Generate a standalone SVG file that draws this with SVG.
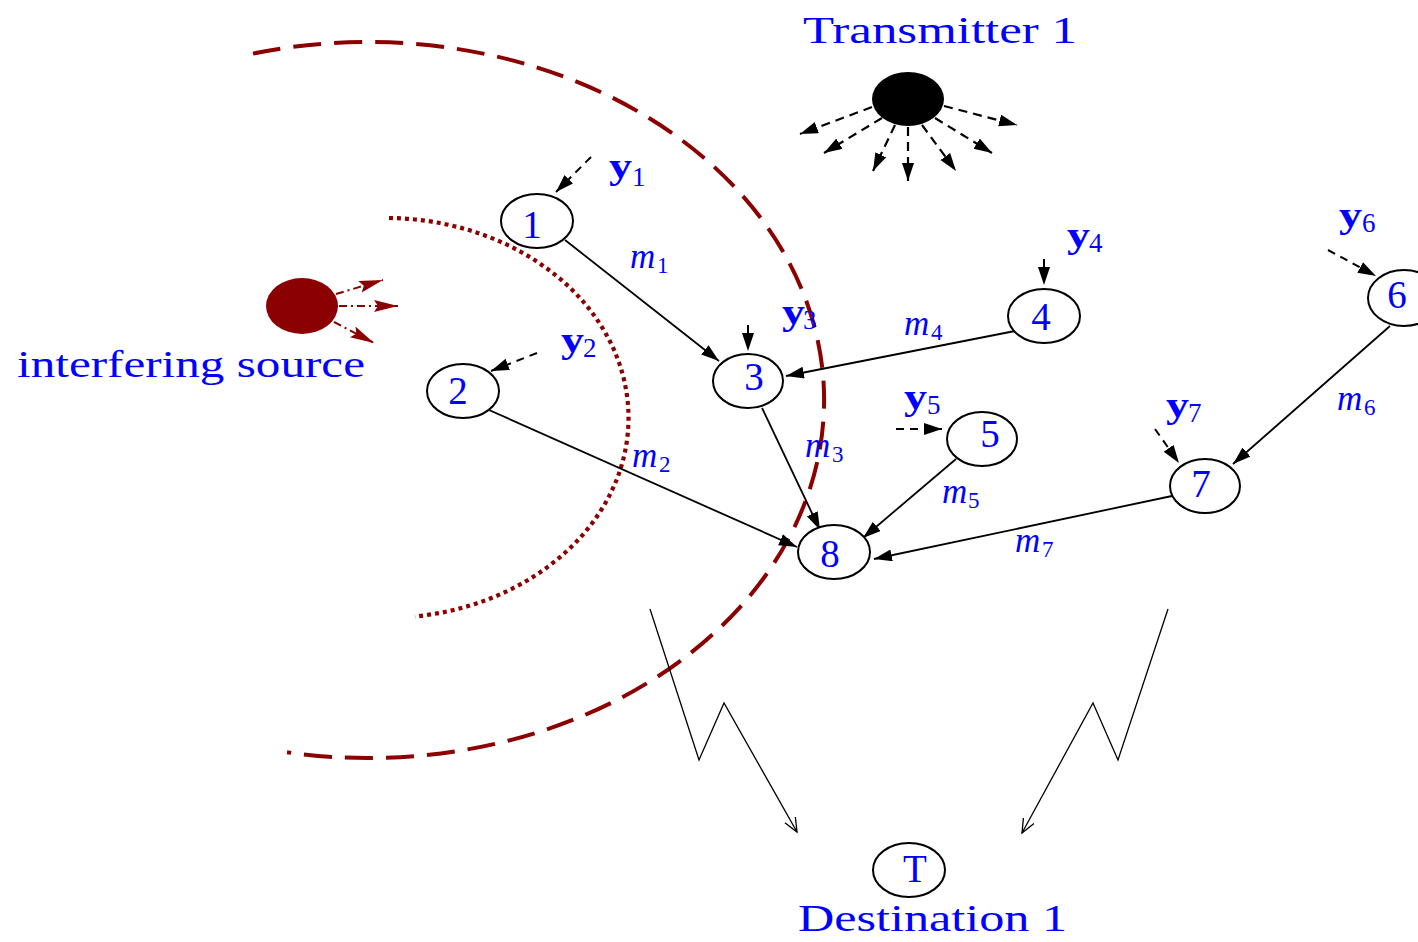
<svg xmlns="http://www.w3.org/2000/svg" width="1418" height="942" viewBox="0 0 1418 942">
<style>
.node{fill:#fff;stroke:#000;stroke-width:2}
.lbl{font-family:"Liberation Serif",serif;fill:#0000ff;font-size:39px;text-anchor:middle}
.big{font-family:"Liberation Serif",serif;fill:#0000ff;font-size:37px}
.yl{font-family:"Liberation Serif",serif;fill:#0000ff;font-size:36px;font-weight:bold}
.ml{font-family:"Liberation Serif",serif;fill:#0000ff;font-size:35px;font-style:italic}
.sub{font-family:"Liberation Serif",serif;fill:#0000ff;font-size:27px}
.msub{font-family:"Liberation Serif",serif;fill:#0000ff;font-size:23px}
.edge{stroke:#000;stroke-width:1.8;fill:none}
.dash{stroke:#000;stroke-width:2;fill:none;stroke-dasharray:8 6}
.ray{stroke:#000;stroke-width:2.2;fill:none;stroke-dasharray:9 6}
.red{stroke:#8b0000;fill:none}
.zig{stroke:#000;stroke-width:1.3;fill:none}
</style>
<defs>
<marker id="ah" markerUnits="userSpaceOnUse" markerWidth="20" markerHeight="13" refX="18" refY="6" orient="auto"><path d="M0,0 L18,6 L0,12 Z" fill="#000"/></marker>
<marker id="ahr" markerUnits="userSpaceOnUse" markerWidth="26" markerHeight="14" refX="24" refY="6" orient="auto"><path d="M0,0 L24,6 L0,12 L4,6 Z" fill="#8b0000"/></marker>
<marker id="open" markerUnits="userSpaceOnUse" markerWidth="16" markerHeight="14" refX="14" refY="7" orient="auto"><path d="M0,1 L14,7 L0,13" fill="none" stroke="#000" stroke-width="1.3"/></marker>
</defs>
<rect width="1418" height="942" fill="#fff"/>

<g id="arcs">
<path class="red" d="M253 53.6 A456 358 0 1 1 287 752.3" stroke-width="4" stroke-dasharray="28 13"/>
<path class="red" d="M389 218 A243 200 0 0 1 415 616.5" stroke-width="4.2" stroke-dasharray="4 4"/>
</g>

<g id="transmitter">
<ellipse cx="908" cy="99" rx="36" ry="27" fill="#000"/>
<line class="ray" x1="872" y1="107" x2="800" y2="134" marker-end="url(#ah)"/>
<line class="ray" x1="882" y1="118" x2="824" y2="153" marker-end="url(#ah)"/>
<line class="ray" x1="895" y1="125" x2="873" y2="171" marker-end="url(#ah)"/>
<line class="ray" x1="908" y1="127" x2="908" y2="181" marker-end="url(#ah)"/>
<line class="ray" x1="922" y1="125" x2="956" y2="171" marker-end="url(#ah)"/>
<line class="ray" x1="935" y1="118" x2="992" y2="153" marker-end="url(#ah)"/>
<line class="ray" x1="944" y1="106" x2="1017" y2="125" marker-end="url(#ah)"/>
<text class="big" x="803" y="43" textLength="274" lengthAdjust="spacingAndGlyphs">Transmitter 1</text>
</g>

<g id="interferer">
<ellipse cx="302" cy="306" rx="36" ry="28" fill="#8b0000"/>
<line class="red" x1="336" y1="294" x2="383" y2="280" stroke-width="2" stroke-dasharray="8 4 2 4" marker-end="url(#ahr)"/>
<line class="red" x1="339" y1="306" x2="398" y2="306" stroke-width="2" stroke-dasharray="8 4 2 4" marker-end="url(#ahr)"/>
<line class="red" x1="334" y1="322" x2="374" y2="343" stroke-width="2" stroke-dasharray="8 4 2 4" marker-end="url(#ahr)"/>
<text class="big" x="17" y="377" textLength="348" lengthAdjust="spacingAndGlyphs">interfering source</text>
</g>

<g id="connectors">
<line class="edge" x1="565" y1="240" x2="719" y2="361" marker-end="url(#ah)"/>
<line class="edge" x1="1015" y1="331" x2="786" y2="376" marker-end="url(#ah)"/>
<line class="edge" x1="489" y1="410" x2="797" y2="547" marker-end="url(#ah)"/>
<line class="edge" x1="762" y1="408" x2="820" y2="530" marker-end="url(#ah)"/>
<line class="edge" x1="956" y1="459" x2="863" y2="538" marker-end="url(#ah)"/>
<line class="edge" x1="1172" y1="496" x2="874" y2="559" marker-end="url(#ah)"/>
<line class="edge" x1="1390" y1="326" x2="1233" y2="464" marker-end="url(#ah)"/>
<line class="dash" x1="591" y1="157" x2="556" y2="192" marker-end="url(#ah)"/>
<line class="dash" x1="537" y1="353" x2="491" y2="371" marker-end="url(#ah)"/>
<line class="dash" x1="748" y1="325" x2="748" y2="351" marker-end="url(#ah)"/>
<line class="dash" x1="1044" y1="259" x2="1044" y2="285" marker-end="url(#ah)"/>
<line class="dash" x1="896" y1="429" x2="942" y2="429" marker-end="url(#ah)"/>
<line class="dash" x1="1328" y1="250" x2="1376" y2="276" marker-end="url(#ah)"/>
<line class="dash" x1="1155" y1="429" x2="1179" y2="463" marker-end="url(#ah)"/>
<polyline class="zig" points="650,609 699,760 724,703 797,832" marker-end="url(#open)"/>
<polyline class="zig" points="1168,609 1118,760 1093,703 1022,833" marker-end="url(#open)"/>
</g>

<g id="n1"><ellipse class="node" cx="537" cy="221" rx="36" ry="27"/><text class="lbl" x="532" y="238">1</text></g>
<g id="n2"><ellipse class="node" cx="463" cy="391" rx="36" ry="27"/><text class="lbl" x="458" y="404">2</text></g>
<g id="n3"><ellipse class="node" cx="748" cy="381" rx="35" ry="27"/><text class="lbl" x="754" y="390">3</text></g>
<g id="n4"><ellipse class="node" cx="1044" cy="316" rx="36" ry="27"/><text class="lbl" x="1041" y="330">4</text></g>
<g id="n5"><ellipse class="node" cx="982" cy="439" rx="35" ry="27"/><text class="lbl" x="990" y="447">5</text></g>
<g id="n6"><ellipse class="node" cx="1404" cy="298" rx="36" ry="28"/><text class="lbl" x="1397" y="308">6</text></g>
<g id="n7"><ellipse class="node" cx="1205" cy="486" rx="35" ry="27"/><text class="lbl" x="1201" y="497">7</text></g>
<g id="n8"><ellipse class="node" cx="834" cy="552" rx="36" ry="27"/><text class="lbl" x="830" y="567">8</text></g>
<g id="nT"><ellipse class="node" cx="909" cy="870" rx="36" ry="27"/><text class="lbl" x="915" y="882">T</text>
<text class="big" x="798" y="931" font-size="36" textLength="269" lengthAdjust="spacingAndGlyphs">Destination 1</text></g>

<g id="ylabels">
<text class="yl" x="609" y="178" textLength="23" lengthAdjust="spacingAndGlyphs">y</text><text class="sub" x="632" y="186">1</text>
<text class="yl" x="561" y="352" textLength="23" lengthAdjust="spacingAndGlyphs">y</text><text class="sub" x="583" y="357">2</text>
<text class="yl" x="782" y="324" textLength="23" lengthAdjust="spacingAndGlyphs">y</text><text class="sub" x="803" y="329">3</text>
<text class="yl" x="1067" y="247" textLength="23" lengthAdjust="spacingAndGlyphs">y</text><text class="sub" x="1089" y="252">4</text>
<text class="yl" x="904" y="409" textLength="23" lengthAdjust="spacingAndGlyphs">y</text><text class="sub" x="927" y="414">5</text>
<text class="yl" x="1339" y="227" textLength="23" lengthAdjust="spacingAndGlyphs">y</text><text class="sub" x="1362" y="232">6</text>
<text class="yl" x="1166" y="417" textLength="23" lengthAdjust="spacingAndGlyphs">y</text><text class="sub" x="1188" y="422">7</text>
</g>
<g id="mlabels">
<text class="ml" x="630" y="268">m</text><text class="msub" x="657" y="273">1</text>
<text class="ml" x="632" y="467">m</text><text class="msub" x="659" y="472">2</text>
<text class="ml" x="805" y="457">m</text><text class="msub" x="832" y="462">3</text>
<text class="ml" x="904" y="335">m</text><text class="msub" x="931" y="340">4</text>
<text class="ml" x="942" y="503">m</text><text class="msub" x="968" y="508">5</text>
<text class="ml" x="1337" y="410">m</text><text class="msub" x="1364" y="415">6</text>
<text class="ml" x="1015" y="552">m</text><text class="msub" x="1042" y="557">7</text>
</g>
</svg>
